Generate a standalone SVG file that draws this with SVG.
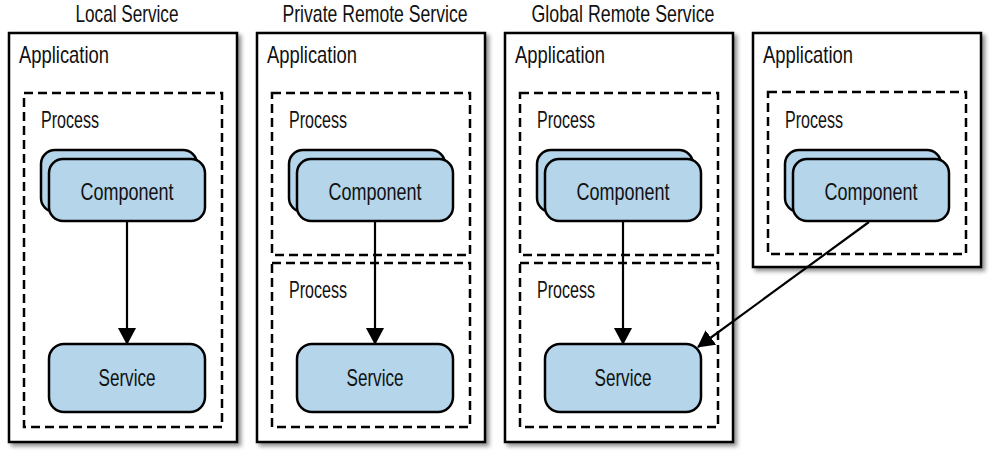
<svg xmlns="http://www.w3.org/2000/svg" width="1000" height="462" viewBox="0 0 1000 462">
<defs>
<style>
text{font-family:"Liberation Sans",Arial,sans-serif;fill:#111;font-size:24px}
.app{fill:#fff;stroke:#000;stroke-width:2.5;filter:url(#sh)}
.proc{fill:none;stroke:#000;stroke-width:2.5;stroke-dasharray:9 5}
.comp{fill:#b4d5ea;stroke:#000;stroke-width:2.5}
.c{text-anchor:middle}
.conn{stroke:#000;stroke-width:2.2;fill:none;marker-end:url(#ah)}
</style>
<filter id="sh" x="-10%" y="-10%" width="125%" height="125%">
<feDropShadow dx="3" dy="3" stdDeviation="2" flood-color="#000" flood-opacity="0.45"/>
</filter>
<marker id="ah" markerWidth="17" markerHeight="18" refX="16" refY="9" orient="auto" markerUnits="userSpaceOnUse">
<path d="M0,0 L17,9 L0,18 Z" fill="#000"/>
</marker>
</defs>

<g id="titles">
<text class="c" x="127" y="22" textLength="103" lengthAdjust="spacingAndGlyphs">Local Service</text>
<text class="c" x="375" y="22" textLength="185" lengthAdjust="spacingAndGlyphs">Private Remote Service</text>
<text class="c" x="623" y="22" textLength="183" lengthAdjust="spacingAndGlyphs">Global Remote Service</text>
</g>

<g id="app1">
<rect class="app" x="9" y="33" width="228" height="409"/>
<text x="19" y="63" textLength="90" lengthAdjust="spacingAndGlyphs">Application</text>
<g id="proc1">
<rect class="proc" x="24" y="93" width="198" height="334"/>
<text x="41" y="128" textLength="58" lengthAdjust="spacingAndGlyphs">Process</text>
</g>
<g id="comp1">
<rect class="comp" x="41" y="150" width="156" height="62" rx="14"/>
<rect class="comp" x="49" y="159" width="156" height="62" rx="14"/>
<text class="c" x="127" y="200" textLength="93" lengthAdjust="spacingAndGlyphs">Component</text>
</g>
<g id="svc1">
<rect class="comp" x="49" y="344" width="156" height="68" rx="15"/>
<text class="c" x="127" y="386" textLength="57" lengthAdjust="spacingAndGlyphs">Service</text>
</g>
</g>

<g id="app2">
<rect class="app" x="257" y="33" width="228" height="409"/>
<text x="267" y="63" textLength="90" lengthAdjust="spacingAndGlyphs">Application</text>
<g id="proc2a">
<rect class="proc" x="272" y="93" width="198" height="162"/>
<text x="289" y="128" textLength="58" lengthAdjust="spacingAndGlyphs">Process</text>
</g>
<g id="proc2b">
<rect class="proc" x="272" y="263" width="198" height="164"/>
<text x="289" y="298" textLength="58" lengthAdjust="spacingAndGlyphs">Process</text>
</g>
<g id="comp2">
<rect class="comp" x="289" y="150" width="156" height="62" rx="14"/>
<rect class="comp" x="297" y="159" width="156" height="62" rx="14"/>
<text class="c" x="375" y="200" textLength="93" lengthAdjust="spacingAndGlyphs">Component</text>
</g>
<g id="svc2">
<rect class="comp" x="297" y="344" width="156" height="68" rx="15"/>
<text class="c" x="375" y="386" textLength="57" lengthAdjust="spacingAndGlyphs">Service</text>
</g>
</g>

<g id="app3">
<rect class="app" x="505" y="33" width="228" height="409"/>
<text x="515" y="63" textLength="90" lengthAdjust="spacingAndGlyphs">Application</text>
<g id="proc3a">
<rect class="proc" x="520" y="93" width="198" height="162"/>
<text x="537" y="128" textLength="58" lengthAdjust="spacingAndGlyphs">Process</text>
</g>
<g id="proc3b">
<rect class="proc" x="520" y="263" width="198" height="164"/>
<text x="537" y="298" textLength="58" lengthAdjust="spacingAndGlyphs">Process</text>
</g>
<g id="comp3">
<rect class="comp" x="537" y="150" width="156" height="62" rx="14"/>
<rect class="comp" x="545" y="159" width="156" height="62" rx="14"/>
<text class="c" x="623" y="200" textLength="93" lengthAdjust="spacingAndGlyphs">Component</text>
</g>
<g id="svc3">
<rect class="comp" x="545" y="344" width="156" height="68" rx="15"/>
<text class="c" x="623" y="386" textLength="57" lengthAdjust="spacingAndGlyphs">Service</text>
</g>
</g>

<g id="app4">
<rect class="app" x="753" y="33" width="228" height="234"/>
<text x="763" y="63" textLength="90" lengthAdjust="spacingAndGlyphs">Application</text>
<g id="proc4">
<rect class="proc" x="768" y="92" width="198" height="162"/>
<text x="785" y="128" textLength="58" lengthAdjust="spacingAndGlyphs">Process</text>
</g>
<g id="comp4">
<rect class="comp" x="785" y="150" width="156" height="62" rx="14"/>
<rect class="comp" x="793" y="159" width="156" height="62" rx="14"/>
<text class="c" x="871" y="200" textLength="93" lengthAdjust="spacingAndGlyphs">Component</text>
</g>
</g>

<g id="connectors">
<line class="conn" x1="127" y1="221" x2="127" y2="344"/>
<line class="conn" x1="375" y1="221" x2="375" y2="344"/>
<line class="conn" x1="623" y1="221" x2="623" y2="344"/>
<line class="conn" x1="869" y1="222" x2="698" y2="347"/>
</g>
</svg>
